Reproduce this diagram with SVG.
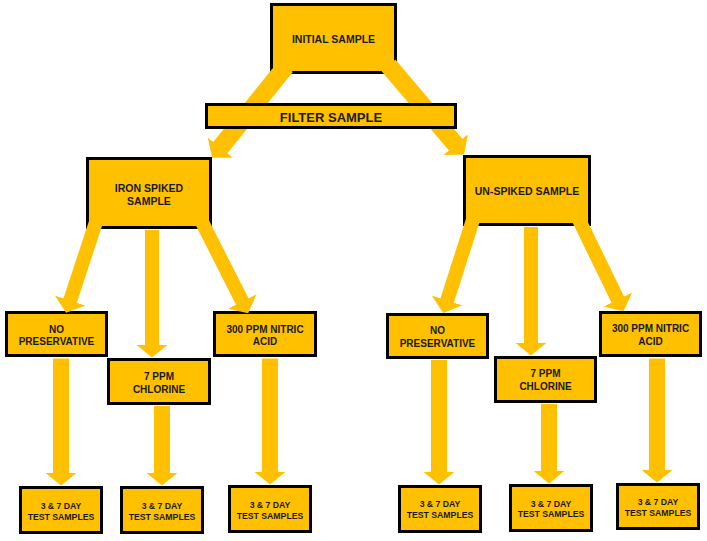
<svg xmlns="http://www.w3.org/2000/svg" width="707" height="541" viewBox="0 0 707 541">
<style>
.box{fill:#FFC000;stroke:#000;stroke-width:3}
.t{font-family:"Liberation Sans",Arial,sans-serif;font-weight:bold;fill:#1a1a1a;text-anchor:middle}
.s1{font-size:10.5px}
.s2{font-size:13px}
.s3{font-size:10px}
.s4{font-size:8.7px}
.a{stroke:#FFC000;fill:none;marker-end:url(#ah)}
.w18{stroke-width:18}
.w16{stroke-width:16}
.w14{stroke-width:14}
</style>
<defs>
<marker id="ah" viewBox="0 0 13 32" markerWidth="13" markerHeight="32" refX="0.5" refY="16" orient="auto" markerUnits="userSpaceOnUse">
<path d="M0,0 L13,16 L0,32 Z" fill="#FFC000"/>
</marker>
</defs>
<rect width="707" height="541" fill="#fff"/>
<g id="initial-sample"><rect class="box" x="271.5" y="4.5" width="124" height="68"/><text class="t s1" x="333.5" y="43">INITIAL SAMPLE</text></g>
<g id="iron-spiked"><rect class="box" x="87.5" y="158.5" width="123" height="69"/><text class="t s1" x="149" y="192">IRON SPIKED</text><text class="t s1" x="149" y="205">SAMPLE</text></g>
<g id="un-spiked"><rect class="box" x="464.5" y="156.5" width="125" height="68"/><text class="t s1" x="527" y="195">UN-SPIKED SAMPLE</text></g>
<g id="l-nopres"><rect class="box" x="6.5" y="312.5" width="100" height="43"/><text class="t s3" x="56.5" y="332.5">NO</text><text class="t s3" x="56.5" y="345">PRESERVATIVE</text></g>
<g id="l-chlorine"><rect class="box" x="108.5" y="359.5" width="101" height="44"/><text class="t s3" x="159" y="380">7 PPM</text><text class="t s3" x="159" y="392.5">CHLORINE</text></g>
<g id="l-nitric"><rect class="box" x="214.5" y="312.5" width="101" height="43"/><text class="t s3" x="265" y="332.5">300 PPM NITRIC</text><text class="t s3" x="265" y="345">ACID</text></g>
<g id="r-nopres"><rect class="box" x="387.5" y="314.5" width="100" height="43"/><text class="t s3" x="437.5" y="334">NO</text><text class="t s3" x="437.5" y="346.5">PRESERVATIVE</text></g>
<g id="r-chlorine"><rect class="box" x="495.5" y="357.5" width="100" height="44"/><text class="t s3" x="545.5" y="377.3">7 PPM</text><text class="t s3" x="545.5" y="390">CHLORINE</text></g>
<g id="r-nitric"><rect class="box" x="600.5" y="312.5" width="100" height="43"/><text class="t s3" x="650.5" y="332.3">300 PPM NITRIC</text><text class="t s3" x="650.5" y="345">ACID</text></g>
<g id="l-test1"><rect class="box" x="20.5" y="487.5" width="81" height="45"/><text class="t s4" x="61" y="508.5">3 &amp; 7 DAY</text><text class="t s4" x="61" y="519.5">TEST SAMPLES</text></g>
<g id="l-test2"><rect class="box" x="121.5" y="487.5" width="81" height="45"/><text class="t s4" x="162" y="508.5">3 &amp; 7 DAY</text><text class="t s4" x="162" y="519.5">TEST SAMPLES</text></g>
<g id="l-test3"><rect class="box" x="229.5" y="486.5" width="81" height="45"/><text class="t s4" x="270" y="507.7">3 &amp; 7 DAY</text><text class="t s4" x="270" y="518.7">TEST SAMPLES</text></g>
<g id="r-test1"><rect class="box" x="399.5" y="486.5" width="81" height="45"/><text class="t s4" x="440" y="507.3">3 &amp; 7 DAY</text><text class="t s4" x="440" y="518.3">TEST SAMPLES</text></g>
<g id="r-test2"><rect class="box" x="510.5" y="485.5" width="81" height="45"/><text class="t s4" x="551" y="506.7">3 &amp; 7 DAY</text><text class="t s4" x="551" y="517.3">TEST SAMPLES</text></g>
<g id="r-test3"><rect class="box" x="617.5" y="484.5" width="81" height="44"/><text class="t s4" x="658" y="505">3 &amp; 7 DAY</text><text class="t s4" x="658" y="516">TEST SAMPLES</text></g>
<g id="connectors">
<line class="a w18" x1="285.8" y1="66.3" x2="220" y2="148"/>
<line class="a w18" x1="388.5" y1="65.4" x2="456" y2="145"/>
<line class="a w14" x1="96.5" y1="220.4" x2="70" y2="301"/>
<line class="a w14" x1="152" y1="230" x2="152" y2="345"/>
<line class="a w14" x1="201.4" y1="220.9" x2="242.5" y2="302"/>
<line class="a w14" x1="473.4" y1="218.4" x2="447" y2="301"/>
<line class="a w14" x1="531" y1="227" x2="531" y2="343"/>
<line class="a w14" x1="578.5" y1="218.8" x2="618" y2="300"/>
<line class="a w16" x1="61" y1="358.5" x2="61" y2="473"/>
<line class="a w16" x1="162" y1="406" x2="162" y2="473"/>
<line class="a w16" x1="270" y1="358.5" x2="270" y2="472"/>
<line class="a w16" x1="439" y1="360" x2="439" y2="472"/>
<line class="a w16" x1="549" y1="404" x2="549" y2="471"/>
<line class="a w16" x1="657" y1="358.5" x2="657" y2="470"/>
</g>
<g id="filter-sample"><rect class="box" x="206.5" y="104.5" width="249" height="23"/><text class="t s2" x="331" y="121.5">FILTER SAMPLE</text></g>
</svg>
